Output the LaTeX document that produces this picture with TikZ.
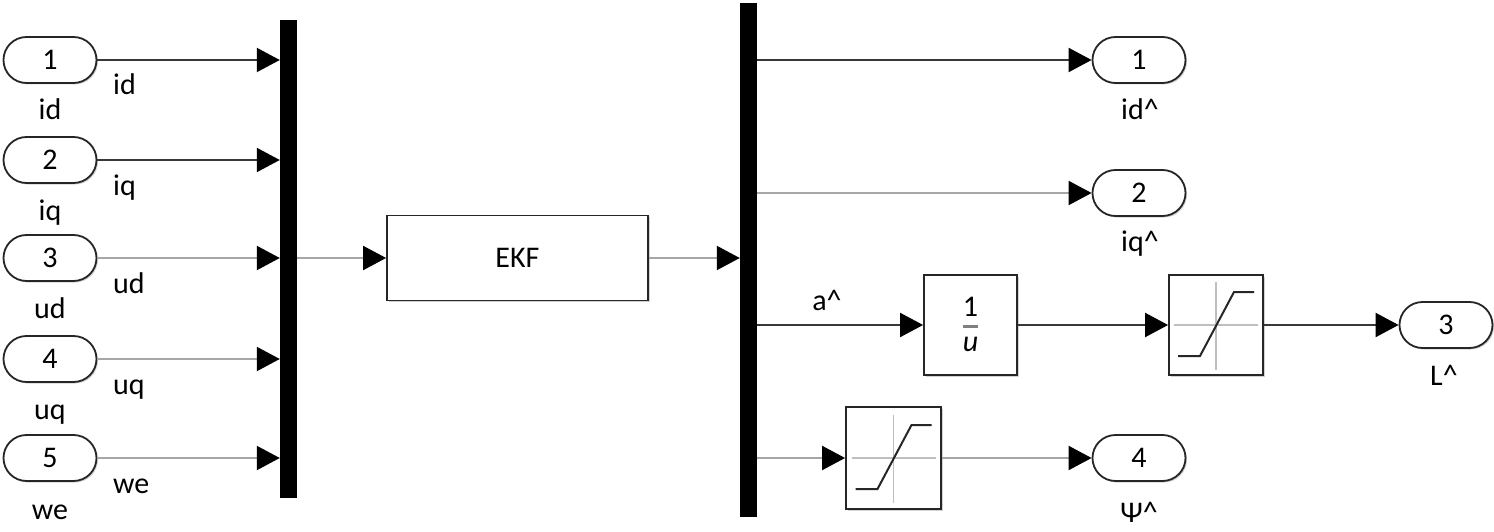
\documentclass[tikz,border=0pt]{standalone}
\usepackage{fontspec}
\setmainfont{Carlito}
\usetikzlibrary{arrows.meta,shapes.misc,shadows,calc}
\begin{document}
\begin{tikzpicture}[x=1pt,y=-1pt,
  lbl/.style={font=\fontsize{30}{34}\selectfont, inner sep=0pt},
  shade/.style={drop shadow={shadow xshift=1.5pt,shadow yshift=-1.5pt,opacity=0.3,fill=black!60}},
  port/.style={rounded rectangle, draw=black!85, line width=1.8pt, fill=white,
    minimum width=93pt, minimum height=46pt, inner sep=0pt,
    font=\fontsize{30}{34}\selectfont, shade},
  blk/.style={rectangle, draw=black!85, line width=1.8pt, fill=white, inner sep=0pt, shade},
  bar/.style={rectangle, fill=black, inner sep=0pt, minimum width=17pt},
  sig/.style={line width=2pt, -{Triangle[length=23pt,width=24pt,color=black]}},
  dk/.style={draw=black!78},
  lt/.style={draw=black!35},
  axis/.style={draw=black!25, line width=1.2pt},
  curve/.style={draw=black!85, line width=2pt},
]
\useasboundingbox (0,0) rectangle (1494,532);

% input ports
\node[port] (in1) at (50,60) {1};
\node[port] (in2) at (50,160) {2};
\node[port] (in3) at (50,258) {3};
\node[port] (in4) at (50,359) {4};
\node[port] (in5) at (50,458) {5};
\node[lbl, anchor=base] (lin1) at (50,120) {id};
\node[lbl, anchor=base] (lin2) at (50,220) {iq};
\node[lbl, anchor=base] (lin3) at (50,318) {ud};
\node[lbl, anchor=base] (lin4) at (50,419) {uq};
\node[lbl, anchor=base] (lin5) at (50,519) {we};

% mux / demux bars
\node[bar, minimum height=478pt] (mux) at (288.5,259) {};
\node[bar, minimum height=514pt] (dmx) at (748.5,260) {};

% EKF
\node[blk, minimum width=261pt, minimum height=85pt, font=\fontsize{30}{34}\selectfont] (ekf) at (517.5,258) {EKF};

% input signals
\draw[sig,dk] (in1.east) -- (in1.east -| mux.west);
\draw[sig,dk] (in2.east) -- (in2.east -| mux.west);
\draw[sig,lt] (in3.east) -- (in3.east -| mux.west);
\draw[sig,lt] (in4.east) -- (in4.east -| mux.west);
\draw[sig,lt] (in5.east) -- (in5.east -| mux.west);
\node[lbl, anchor=base west] (sid) at (113,95) {id};
\node[lbl, anchor=base west] (siq) at (113,195) {iq};
\node[lbl, anchor=base west] (sud) at (113,293) {ud};
\node[lbl, anchor=base west] (suq) at (113,394) {uq};
\node[lbl, anchor=base west] (swe) at (113,493) {we};

\draw[sig,lt] (mux.east |- ekf.west) -- (ekf.west);
\draw[sig,lt] (ekf.east) -- (ekf.east -| dmx.west);

% output ports
\node[port] (o1) at (1139,60) {1};
\node[port] (o2) at (1139,193) {2};
\node[port] (o3) at (1446,325) {3};
\node[port] (o4) at (1139,458) {4};
\node[lbl, anchor=base] (lo1) at (1140,120) {id\textasciicircum};
\node[lbl, anchor=base] (lo2) at (1140,251) {iq\textasciicircum};
\node[lbl, anchor=base] (lo3) at (1444,385) {L\textasciicircum};
\node[lbl, anchor=base] (lo4) at (1139,522) {Ψ\textasciicircum};

% 1/u block
\node[blk, minimum width=93pt, minimum height=100pt] (rec) at (970.5,325) {};
\node[lbl] (rnum) at ($(rec.center)+(0,-18)$) {1};
\node[lbl, font=\fontsize{30}{34}\selectfont\itshape] (rden) at ($(rec.center)+(0,19)$) {u};
\draw[draw=black!50, line width=3pt] ($(rec.center)+(-7.5,1)$) -- ($(rec.center)+(7.5,1)$);

% saturation blocks
\node[blk, minimum width=94pt, minimum height=100pt] (s1) at (1216,325) {};
\node[blk, minimum width=95pt, minimum height=102pt] (s2) at (893.5,458) {};
\foreach \s in {s1,s2}{
  \begin{scope}[shift={(\s.center)}]
    \draw[axis] (0,-43) -- (0,45);
    \draw[axis] (-42,0) -- (42,0);
    \draw[curve] (-38,31) -- (-16,31) -- (18,-33) -- (38,-33);
  \end{scope}
}

\node[lbl, anchor=base] (sa) at (827,310) {a\textasciicircum};

% output signals
\draw[sig,dk] (dmx.east |- o1.west) -- (o1.west);
\draw[sig,lt] (dmx.east |- o2.west) -- (o2.west);
\draw[sig,dk] (dmx.east |- rec.west) -- (rec.west);
\draw[sig,dk] (rec.east) -- (s1.west);
\draw[sig,dk] (s1.east) -- (o3.west);
\draw[sig,lt] (dmx.east |- s2.west) -- (s2.west);
\draw[sig,lt] (s2.east) -- (o4.west);
\end{tikzpicture}
\end{document}
